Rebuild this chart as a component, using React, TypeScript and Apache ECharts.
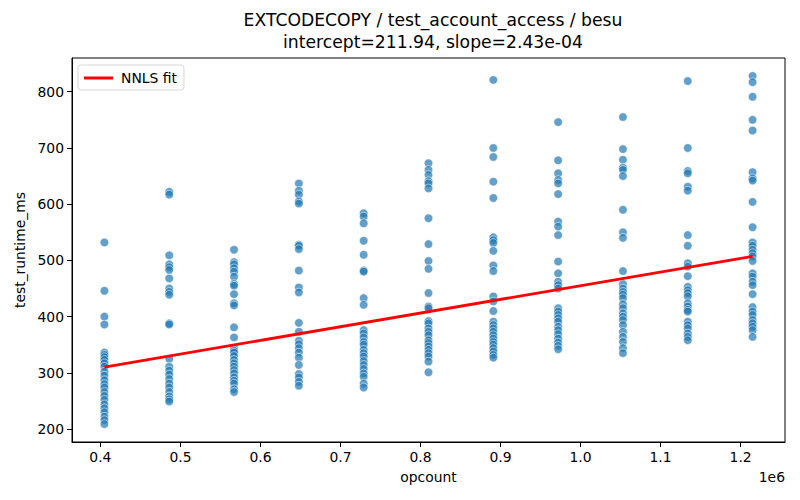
import React, { useEffect, useRef } from "react";
import * as echarts from "echarts";

const titleLines = ["EXTCODECOPY / test_account_access / besu", "intercept=211.94, slope=2.43e-04"];
const opcountLevels = [405000, 486000, 567000, 648000, 729000, 810000, 891000, 972000, 1053000, 1134000, 1215000];

const runtime405k = [532, 446, 400, 386, 336, 332, 328, 323, 317, 311, 302, 295, 287, 280, 274, 266, 259, 252, 244, 237, 230, 222, 216, 209];
const runtime486k = [622, 617, 509, 493, 488, 483, 468, 450, 444, 439, 388, 386, 325, 311, 304, 297, 289, 281, 274, 266, 258, 253, 249];
const runtime567k = [519, 497, 493, 486, 480, 471, 458, 455, 440, 424, 420, 381, 363, 344, 339, 336, 330, 323, 317, 311, 305, 299, 292, 286, 281, 271, 266];
const runtime648k = [637, 624, 617, 605, 601, 528, 526, 520, 482, 452, 443, 389, 373, 357, 351, 344, 336, 327, 314, 298, 292, 284, 277];
const runtime729k = [584, 578, 566, 535, 510, 482, 480, 433, 421, 376, 370, 363, 355, 350, 341, 335, 329, 321, 314, 307, 299, 293, 281, 274];
const runtime810k = [673, 661, 652, 641, 637, 628, 575, 529, 499, 485, 442, 418, 415, 392, 388, 379, 373, 367, 358, 353, 347, 341, 335, 329, 320, 301];
const runtime891k = [821, 700, 684, 640, 611, 541, 536, 531, 517, 491, 481, 436, 427, 410, 391, 385, 379, 373, 367, 361, 355, 350, 344, 338, 332, 327];
const runtime972k = [746, 678, 655, 643, 637, 618, 569, 560, 545, 498, 477, 462, 456, 450, 415, 409, 403, 397, 391, 382, 376, 369, 361, 354, 348, 342];
const runtime1053k = [755, 698, 679, 665, 661, 650, 590, 550, 540, 481, 458, 450, 444, 439, 433, 422, 415, 406, 400, 394, 385, 373, 364, 355, 344, 335];
const runtime1134k = [819, 700, 659, 655, 631, 624, 545, 526, 495, 489, 472, 453, 447, 442, 436, 424, 418, 412, 409, 391, 385, 379, 370, 364, 358];
const runtime1215k = [828, 817, 791, 750, 731, 657, 646, 642, 604, 559, 532, 526, 519, 513, 507, 499, 477, 471, 462, 456, 440, 417, 409, 403, 394, 388, 382, 376, 364];

const runtimeByLevel = [
  runtime405k, runtime486k, runtime567k, runtime648k, runtime729k, runtime810k,
  runtime891k, runtime972k, runtime1053k, runtime1134k, runtime1215k,
];

const fitIntercept = 211.94;
const fitSlope = 2.43e-4;

const xTicks = [400000, 500000, 600000, 700000, 800000, 900000, 1000000, 1100000, 1200000];
const yTicks = [200, 300, 400, 500, 600, 700, 800];

const FONT = "DejaVu Sans";

export default function App() {
  const ref = useRef<HTMLDivElement>(null);

  useEffect(() => {
    document.body.style.margin = "0";
    if (!ref.current) return;
    const chart = echarts.init(ref.current, undefined, { renderer: "svg" });

    const points: number[][] = [];
    opcountLevels.forEach((x, i) => {
      runtimeByLevel[i].forEach((y) => points.push([x, y]));
    });
    const xMinData = opcountLevels[0];
    const xMaxData = opcountLevels[opcountLevels.length - 1];
    const fitLine = [
      [xMinData, fitIntercept + fitSlope * xMinData],
      [xMaxData, fitIntercept + fitSlope * xMaxData],
    ];

    const axisText = { color: "#000", fontSize: 13.9, fontFamily: FONT };

    chart.setOption({
      animation: false,
      backgroundColor: "#fff",
      textStyle: { fontFamily: FONT },
      title: {
        text: titleLines.join("\n"),
        left: 428,
        top: 4,
        textAlign: "center",
        textStyle: { fontSize: 17.2, fontWeight: "normal", color: "#000", fontFamily: FONT, lineHeight: 22 },
      },
      legend: {
        data: ["NNLS fit"],
        left: 78,
        top: 65,
        icon: "rect",
        itemWidth: 29,
        itemHeight: 3,
        itemGap: 8,
        backgroundColor: "rgba(255,255,255,0.8)",
        borderColor: "#d6d6d6",
        borderWidth: 1,
        borderRadius: 3,
        padding: [6, 7, 5, 6],
        textStyle: { color: "#000", fontSize: 13.9, fontFamily: FONT, padding: [0, 0, 0, 3] },
      },
      grid: {
        left: 72,
        right: 15,
        top: 58,
        bottom: 58,
        show: true,
        borderColor: "#000",
        borderWidth: 1,
        backgroundColor: "transparent",
      },
      xAxis: {
        type: "value",
        min: 364500,
        max: 1255500,
        name: "opcount",
        nameLocation: "middle",
        nameGap: 28,
        nameTextStyle: axisText,
        axisLine: { show: true, lineStyle: { color: "#000", width: 1 } },
        axisTick: { show: true, length: 5, customValues: xTicks, lineStyle: { color: "#000" } },
        axisLabel: {
          ...axisText,
          margin: 8,
          customValues: xTicks,
          formatter: (v: number) => (v / 1e6).toFixed(1),
        },
        splitLine: { show: false },
      },
      yAxis: {
        type: "value",
        min: 177,
        max: 860,
        name: "test_runtime_ms",
        nameLocation: "middle",
        nameGap: 44,
        nameRotate: 90,
        nameTextStyle: axisText,
        axisLine: { show: true, lineStyle: { color: "#000", width: 1 } },
        axisTick: { show: true, length: 5, customValues: yTicks, lineStyle: { color: "#000" } },
        axisLabel: { ...axisText, margin: 8, customValues: yTicks },
        splitLine: { show: false },
      },
      graphic: [
        {
          type: "text",
          x: 785,
          y: 477,
          style: { text: "1e6", align: "right", verticalAlign: "middle", fill: "#000", font: `13.9px "${FONT}"` },
        },
      ],
      series: [
        {
          type: "scatter",
          name: "runtime",
          data: points,
          symbolSize: 8.5,
          itemStyle: { color: "#1f77b4", opacity: 0.7, borderColor: "#fff", borderWidth: 0.75 },
          emphasis: { disabled: true },
          z: 2,
        },
        {
          type: "line",
          name: "NNLS fit",
          data: fitLine,
          symbol: "none",
          lineStyle: { color: "#ff0000", width: 2.8 },
          itemStyle: { color: "#ff0000" },
          emphasis: { disabled: true },
          z: 3,
        },
      ],
    });

    return () => chart.dispose();
  }, []);

  return <div ref={ref} style={{ width: 800, height: 500 }} />;
}
